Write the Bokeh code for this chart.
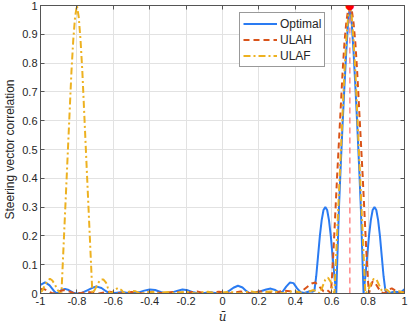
from bokeh.plotting import figure
from bokeh.models import (FixedTicker, LinearAxis, Legend, LegendItem, Label, Range1d)
from bokeh.embed import file_html
from bokeh.resources import INLINE

# ---------------- data ----------------
opt_u = [-1.00, -0.975, -0.95, -0.925, -0.91, -0.885, -0.865, -0.845, -0.82, -0.80,
         -0.77, -0.74, -0.71, -0.69, -0.665, -0.64, -0.62, -0.58, -0.55, -0.52,
         -0.50, -0.46, -0.43, -0.40, -0.37, -0.34, -0.31, -0.28, -0.25, -0.22,
         -0.19, -0.16, -0.13, -0.10, -0.07, -0.04, -0.01, 0.02, 0.04, 0.06,
         0.085, 0.11, 0.13, 0.15, 0.18, 0.21, 0.24, 0.265, 0.29, 0.31,
         0.33, 0.35, 0.37, 0.39, 0.41, 0.43, 0.45, 0.48, 0.495,
         0.505, 0.515, 0.525, 0.535, 0.545, 0.555, 0.565, 0.575, 0.585, 0.595, 0.605, 0.615, 0.625,
         0.63, 0.64, 0.65, 0.66, 0.67, 0.68, 0.69, 0.70, 0.71, 0.72, 0.73, 0.74, 0.75, 0.76, 0.77, 0.775,
         0.785, 0.795, 0.805, 0.815, 0.825, 0.835, 0.845, 0.855, 0.865, 0.875, 0.885, 0.895,
         0.91, 0.93, 0.95, 0.97, 0.985, 1.00]
opt_v = [0.030, 0.039, 0.028, 0.008, 0.000, 0.012, 0.016, 0.012, 0.003, 0.000,
         0.003, 0.012, 0.021, 0.024, 0.019, 0.008, 0.000, 0.003, 0.005, 0.002,
         0.000, 0.004, 0.010, 0.014, 0.012, 0.005, 0.000, 0.003, 0.009, 0.014,
         0.011, 0.004, 0.000, 0.002, 0.004, 0.002, 0.000, 0.003, 0.011, 0.020,
         0.027, 0.021, 0.009, 0.000, 0.004, 0.008, 0.014, 0.017, 0.012, 0.004,
         0.006, 0.024, 0.038, 0.036, 0.018, 0.004, 0.002, 0.008, 0.006,
         0.010, 0.060, 0.130, 0.200, 0.255, 0.290, 0.300, 0.290, 0.255, 0.200, 0.130, 0.060, 0.000,
         0.100, 0.300, 0.450, 0.590, 0.720, 0.840, 0.940, 1.000, 0.940, 0.840, 0.720, 0.590, 0.450, 0.300, 0.100, 0.000,
         0.060, 0.130, 0.200, 0.255, 0.290, 0.300, 0.290, 0.255, 0.200, 0.130, 0.060, 0.010,
         0.000, 0.004, 0.006, 0.004, 0.007, 0.015]

ulah_u = [-1.00, -0.98, -0.96, -0.94, -0.92, -0.895, -0.87, -0.845, -0.82, -0.80,
          -0.77, -0.74, -0.71, -0.68, -0.65, -0.62, -0.59, -0.56, -0.53, -0.50,
          -0.47, -0.44, -0.41, -0.38, -0.35, -0.32, -0.29, -0.26, -0.23, -0.20,
          -0.17, -0.14, -0.11, -0.08, -0.05, -0.02, 0.01, 0.04, 0.07, 0.10,
          0.13, 0.16, 0.19, 0.22, 0.25, 0.28, 0.31, 0.34, 0.37, 0.40,
          0.43, 0.46, 0.49, 0.51, 0.53, 0.555, 0.575, 0.59, 0.595,
          0.60, 0.61, 0.62, 0.63, 0.64, 0.65, 0.66, 0.67, 0.68, 0.69, 0.70,
          0.71, 0.72, 0.73, 0.74, 0.75, 0.76, 0.77, 0.78, 0.79, 0.80, 0.805,
          0.815, 0.825, 0.835, 0.85, 0.87, 0.89, 0.91, 0.93, 0.95, 0.97, 1.00]
ulah_v = [0.016, 0.015, 0.009, 0.002, 0.000, 0.008, 0.012, 0.008, 0.002, 0.000,
          0.003, 0.005, 0.003, 0.000, 0.004, 0.006, 0.003, 0.000, 0.003, 0.005,
          0.003, 0.000, 0.004, 0.006, 0.003, 0.000, 0.004, 0.006, 0.003, 0.000,
          0.005, 0.007, 0.003, 0.000, 0.004, 0.006, 0.003, 0.000, 0.004, 0.007,
          0.004, 0.000, 0.005, 0.008, 0.005, 0.000, 0.006, 0.010, 0.008, 0.000,
          0.005, 0.020, 0.035, 0.038, 0.025, 0.008, 0.012, 0.004, 0.000,
          0.040, 0.150, 0.280, 0.410, 0.530, 0.650, 0.770, 0.870, 0.940, 0.985, 1.000,
          0.985, 0.940, 0.870, 0.770, 0.650, 0.530, 0.410, 0.280, 0.150, 0.040, 0.000,
          0.025, 0.042, 0.040, 0.025, 0.005, 0.000, 0.012, 0.018, 0.010, 0.002, 0.005]

ulaf_u = [-1.00, -0.99, -0.975, -0.96, -0.948, -0.935, -0.92, -0.905, -0.89,
          -0.885, -0.88, -0.87, -0.86, -0.85, -0.84, -0.83, -0.82, -0.81, -0.80,
          -0.79, -0.78, -0.77, -0.76, -0.75, -0.74, -0.73, -0.72, -0.715,
          -0.70, -0.685, -0.67, -0.655, -0.64, -0.63, -0.62, -0.61,
          -0.595, -0.575, -0.555, -0.54, -0.52, -0.50, -0.48, -0.46, -0.44,
          -0.41, -0.38, -0.35, -0.32, -0.29, -0.26, -0.23, -0.20, -0.17, -0.14,
          -0.11, -0.08, -0.05, -0.02, 0.01, 0.04, 0.07, 0.10, 0.13, 0.16,
          0.19, 0.22, 0.25, 0.28, 0.31, 0.34, 0.37, 0.40, 0.43, 0.46,
          0.48, 0.50, 0.52, 0.535, 0.55, 0.565, 0.58, 0.595, 0.605, 0.615,
          0.62, 0.63, 0.64, 0.65, 0.66, 0.67, 0.68, 0.69, 0.70,
          0.71, 0.72, 0.73, 0.74, 0.75, 0.76, 0.77, 0.78, 0.785,
          0.80, 0.815, 0.83, 0.845, 0.86, 0.875, 0.89, 0.905, 0.92, 0.95, 0.97, 0.99, 1.00]
ulaf_v = [0.005, 0.010, 0.030, 0.045, 0.051, 0.045, 0.030, 0.012, 0.000,
          0.000, 0.070, 0.210, 0.350, 0.490, 0.630, 0.770, 0.880, 0.960, 1.000,
          0.960, 0.880, 0.770, 0.630, 0.490, 0.350, 0.210, 0.070, 0.000,
          0.015, 0.035, 0.048, 0.049, 0.038, 0.020, 0.003, 0.000,
          0.012, 0.019, 0.012, 0.000, 0.005, 0.009, 0.008, 0.002, 0.000,
          0.004, 0.005, 0.000, 0.004, 0.005, 0.000, 0.004, 0.006, 0.002, 0.000,
          0.004, 0.006, 0.002, 0.000, 0.004, 0.006, 0.002, 0.000, 0.005, 0.007,
          0.003, 0.000, 0.006, 0.008, 0.003, 0.000, 0.006, 0.008, 0.003, 0.000,
          0.008, 0.012, 0.006, 0.000, 0.025, 0.048, 0.055, 0.040, 0.015, 0.000,
          0.070, 0.210, 0.350, 0.490, 0.630, 0.770, 0.880, 0.960, 1.000,
          0.960, 0.880, 0.770, 0.630, 0.490, 0.350, 0.210, 0.070, 0.000,
          0.010, 0.035, 0.050, 0.050, 0.030, 0.010, 0.015, 0.012, 0.003, 0.005, 0.008, 0.004, 0.000]

target_u = [0.7]
target_v = [1.0]
marker_line_v = [0.0, 1.0]

x_ticks = [-1, -0.8, -0.6, -0.4, -0.2, 0, 0.2, 0.4, 0.6, 0.8, 1]
x_tick_labels = ["-1", "-0.8", "-0.6", "-0.4", "-0.2", "0", "0.2", "0.4", "0.6", "0.8", "1"]
y_ticks = [0, 0.1, 0.2, 0.3, 0.4, 0.5, 0.6, 0.7, 0.8, 0.9, 1]
y_tick_labels = ["0", "0.1", "0.2", "0.3", "0.4", "0.5", "0.6", "0.7", "0.8", "0.9", "1"]
series_names = ["Optimal", "ULAH", "ULAF"]
x_title = "ū"
y_title = "Steering vector correlation"
target_label = "u"

# ---------------- styling ----------------
BLUE = "#2a7bf2"
RED = "#d95319"
YELLOW = "#edb120"
AX = "#555555"
TXT = "#262626"
FONT = "Liberation Sans"

p = figure(width=409, height=326, output_backend="svg", toolbar_location=None,
           x_range=Range1d(-1, 1), y_range=Range1d(0, 1),
           min_border_left=39, min_border_right=5, min_border_top=5, min_border_bottom=33)
p.background_fill_color = "white"
p.border_fill_color = "white"
p.outline_line_color = AX
p.outline_line_width = 1

xt = FixedTicker(ticks=x_ticks)
yt = FixedTicker(ticks=y_ticks)
xa = p.xaxis[0]
ya = p.yaxis[0]
xa.ticker = xt
ya.ticker = yt
xa.major_label_overrides = {t: l for t, l in zip(x_ticks, x_tick_labels)}
ya.major_label_overrides = {t: l for t, l in zip(y_ticks, y_tick_labels)}
for ax in (xa, ya):
    ax.major_tick_in = 4
    ax.major_tick_out = 0
    ax.minor_tick_in = 0
    ax.minor_tick_out = 0
    ax.axis_line_color = AX
    ax.major_tick_line_color = AX
    ax.major_label_text_font = FONT
    ax.major_label_text_font_size = "11px"
    ax.major_label_text_color = TXT
    ax.major_label_standoff = 3
    ax.axis_label_text_color = TXT
xa.axis_label = x_title
xa.axis_label_text_font = "DejaVu Serif"
xa.axis_label_text_font_style = "italic"
xa.axis_label_text_font_size = "12px"
xa.axis_label_standoff = 2
ya.axis_label = y_title
ya.axis_label_text_font = FONT
ya.axis_label_text_font_style = "normal"
ya.axis_label_text_font_size = "12px"
ya.axis_label_standoff = 2

for loc, tk in (("above", xt), ("right", yt)):
    a = LinearAxis(ticker=tk, major_tick_in=4, major_tick_out=0, minor_tick_in=0, minor_tick_out=0,
                   axis_line_color=AX, major_tick_line_color=AX,
                   major_label_text_color=None, major_label_text_font_size="1px",
                   major_label_standoff=0)
    p.add_layout(a, loc)

p.xgrid.ticker = xt
p.ygrid.ticker = yt
p.grid.grid_line_color = "#e2e2e2"
p.grid.grid_line_width = 1

r_opt = p.line(opt_u, opt_v, line_color=BLUE, line_width=2)
r_ulah = p.line(ulah_u, ulah_v, line_color=RED, line_width=2, line_dash="6 4")
r_ulaf = p.line(ulaf_u, ulaf_v, line_color=YELLOW, line_width=2, line_dash="7 3 2 3")

p.line([target_u[0], target_u[0]], marker_line_v, line_color="#ff4b4b", line_width=1, line_dash="6 4")

# target marker: drawn as an (unclipped) label so it overhangs the frame as in the reference
p.add_layout(Label(x=target_u[0], y=target_v[0], x_units="data", y_units="data",
                   text="●", text_font="DejaVu Sans", text_font_size="11px",
                   text_align="center", text_baseline="middle", text_color="#ff0000"))

p.add_layout(Label(x=target_u[0], y=0, x_units="data", y_units="data", y_offset=-3,
                   text=target_label, text_font="DejaVu Serif", text_font_style="italic",
                   text_font_size="13px", text_align="center", text_baseline="top",
                   text_color=TXT))

legend = Legend(items=[LegendItem(label=series_names[0], renderers=[r_opt]),
                       LegendItem(label=series_names[1], renderers=[r_ulah]),
                       LegendItem(label=series_names[2], renderers=[r_ulaf])],
                location=(199, 226), label_text_font=FONT, label_text_font_size="12px",
                label_text_color=TXT, glyph_width=34, glyph_height=15, label_height=15,
                label_standoff=3, spacing=1, padding=3, margin=0,
                border_line_color="#333333", border_line_width=1,
                background_fill_color="white", background_fill_alpha=1)
p.add_layout(legend, "center")

open("out.html", "w").write(file_html(p, INLINE))
